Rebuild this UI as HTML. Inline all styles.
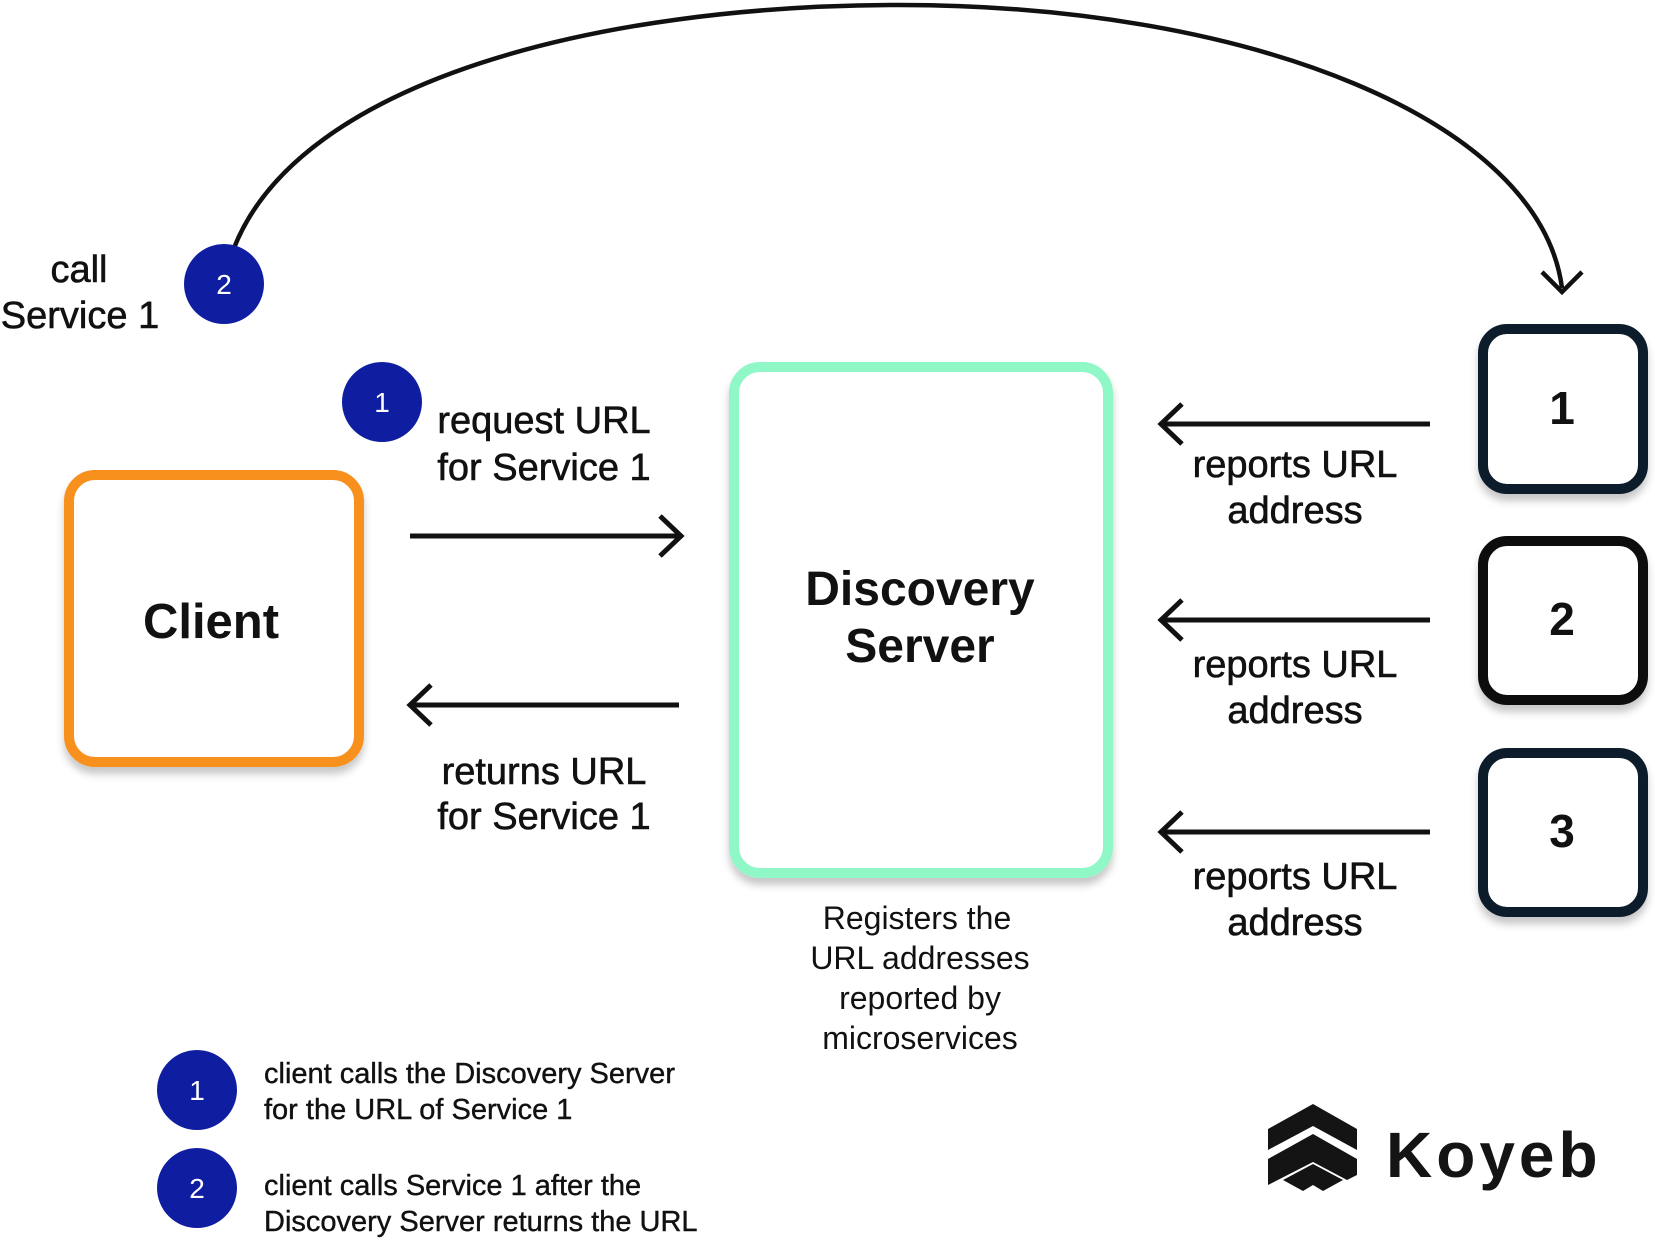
<!DOCTYPE html>
<html><head><meta charset="utf-8"><style>
html,body{margin:0;padding:0;background:#fff;}
svg text{font-family:"Liberation Sans",sans-serif;fill:#111;}
</style></head><body>
<svg width="1655" height="1238" viewBox="0 0 1655 1238" xmlns="http://www.w3.org/2000/svg">
<defs>
<filter id="sh" x="-10%" y="-10%" width="120%" height="125%"><feDropShadow dx="0" dy="7" stdDeviation="4" flood-color="#000" flood-opacity="0.22"/></filter>
</defs>
<path d="M234,248 C300,80 600,5 900,5 C1250,5 1540,120 1562,288" fill="none" stroke="#111" stroke-width="4.5"/>
<path d="M1542,272 L1562,292 L1582,272" fill="none" stroke="#111" stroke-width="4.5"/>
<rect x="69" y="475" width="290" height="287" rx="26" fill="#fff" stroke="#f7901e" stroke-width="10" filter="url(#sh)"/>
<rect x="734" y="367" width="374" height="506" rx="26" fill="#fff" stroke="#90f7c7" stroke-width="10" filter="url(#sh)"/>
<rect x="1483" y="329" width="160" height="160" rx="24" fill="#fff" stroke="#0e1c2b" stroke-width="10" filter="url(#sh)"/>
<rect x="1483" y="541" width="160" height="159" rx="24" fill="#fff" stroke="#111" stroke-width="10" filter="url(#sh)"/>
<rect x="1483" y="753" width="160" height="159" rx="24" fill="#fff" stroke="#0e1c2b" stroke-width="10" filter="url(#sh)"/>
<text x="211" y="638" font-size="49" font-weight="bold" text-anchor="middle">Client</text>
<text x="920" y="605" font-size="48" font-weight="bold" text-anchor="middle">Discovery</text>
<text x="920" y="662" font-size="48" font-weight="bold" text-anchor="middle">Server</text>
<text x="1562" y="424" font-size="46" font-weight="bold" text-anchor="middle">1</text>
<text x="1562" y="635" font-size="46" font-weight="bold" text-anchor="middle">2</text>
<text x="1562" y="847" font-size="46" font-weight="bold" text-anchor="middle">3</text>
<g stroke="#111" stroke-width="5" fill="none">
<path d="M410,536 L680,536 M660,516 L681,536 L660,556"/>
<path d="M679,705 L410,705 M431,685 L410,705 L431,725"/>
<path d="M1430,424 L1161,424 M1182,404 L1161,424 L1182,444"/>
<path d="M1430,620 L1161,620 M1182,600 L1161,620 L1182,640"/>
<path d="M1430,832 L1161,832 M1182,812 L1161,832 L1182,852"/>
</g>
<g font-size="38" text-anchor="middle" stroke="#111" stroke-width="0.6">
<text x="544" y="433">request URL</text><text x="544" y="480">for Service 1</text>
<text x="544" y="784">returns URL</text><text x="544" y="829">for Service 1</text>
<text x="1295" y="477">reports URL</text><text x="1295" y="523">address</text>
<text x="1295" y="677">reports URL</text><text x="1295" y="723">address</text>
<text x="1295" y="889">reports URL</text><text x="1295" y="935">address</text>
<text x="79" y="282">call</text><text x="80" y="328">Service 1</text>
</g>
<g font-size="32" text-anchor="middle">
<text x="917" y="929">Registers the</text><text x="920" y="969">URL addresses</text>
<text x="920" y="1009">reported by</text><text x="920" y="1049">microservices</text>
</g>
<g fill="#0f1ea0">
<circle cx="224" cy="284" r="40"/><circle cx="382" cy="402" r="40"/>
<circle cx="197" cy="1090" r="40"/><circle cx="197" cy="1188" r="40"/>
</g>
<g font-size="28" text-anchor="middle">
<text x="224" y="294" style="fill:#fff">2</text><text x="382" y="412" style="fill:#fff">1</text>
<text x="197" y="1100" style="fill:#fff">1</text><text x="197" y="1198" style="fill:#fff">2</text>
</g>
<g font-size="29" stroke="#111" stroke-width="0.4">
<text x="264" y="1083">client calls the Discovery Server</text>
<text x="264" y="1119">for the URL of Service 1</text>
<text x="264" y="1195">client calls Service 1 after the</text>
<text x="264" y="1231">Discovery Server returns the URL</text>
</g>
<g fill="#141414">
<polygon points="1268,1129 1313,1104 1357,1129 1357,1150 1313,1126 1268,1150"/>
<polygon points="1268,1159 1313,1134 1357,1159 1357,1175 1347,1180 1313,1162 1268,1185 1268,1176"/>
<polygon points="1283,1180 1313,1164 1343,1180 1323,1191 1313,1185 1303,1191"/>
</g>
<text x="1386" y="1177" font-size="64" font-weight="bold" letter-spacing="4" style="fill:#141414">Koyeb</text>
</svg>
</body></html>
